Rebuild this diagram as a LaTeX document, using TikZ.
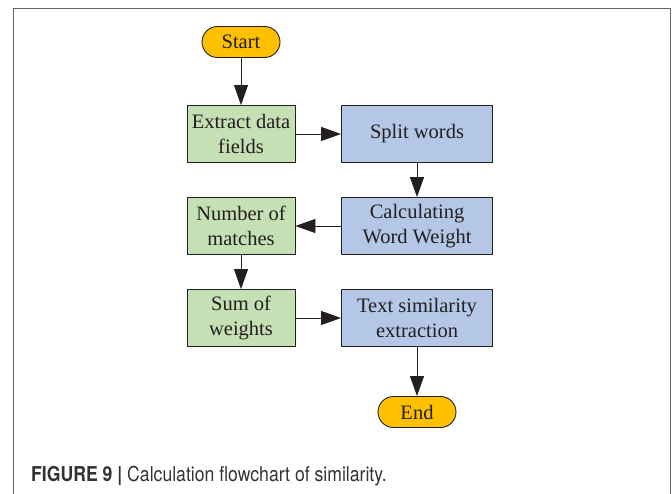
\documentclass[tikz,border=0pt]{standalone}
\usepackage{fontspec}
\setmainfont{Liberation Serif}
\newfontfamily\capfont[FakeStretch=0.86]{TeX Gyre Heros}
\usepackage{tikz}
\usetikzlibrary{
	positioning,
	arrows.meta
}

\definecolor{termfill}{HTML}{FFC000}
\definecolor{greenfill}{HTML}{C5E0B4}
\definecolor{bluefill}{HTML}{B4C7E7}
\definecolor{inkgray}{HTML}{231F20}

\tikzset{
	terminal/.style={draw=inkgray,fill=termfill,line width=0.9pt,rounded corners=15.5pt,
		minimum width=78pt,minimum height=31pt,inner sep=0pt,font=\fontsize{20.5}{24}\selectfont},
	greenbox/.style={draw=inkgray,fill=greenfill,line width=0.9pt,minimum width=108pt,
		minimum height=57pt,inner sep=0pt,align=center,font=\fontsize{20.5}{25}\selectfont},
	bluebox/.style={draw=inkgray,fill=bluefill,line width=0.9pt,minimum width=151pt,
		minimum height=57pt,inner sep=0pt,align=center,font=\fontsize{20.5}{25}\selectfont},
	flow/.style={draw=inkgray,line width=0.9pt,-{Triangle[length=20pt,width=14pt]}}
}

\begin{document}
\begin{tikzpicture}[text=inkgray,node distance=92pt]
		\useasboundingbox (0,0) rectangle (672pt,-494pt);
		\draw[gray!80!black,line width=1.3pt] (13.5pt,-494pt) -- (13.5pt,-8.5pt) -- (670.5pt,-8.5pt) -- (670.5pt,-494pt);

		\draw
			node [terminal] at (241pt,-42pt)              (start)   {Start}
			node [greenbox,below of=start]                (extract) {Extract data\\fields}
			node [bluebox,node distance=176pt,right of=extract] (split)   {Split words}
			node [bluebox,below of=split]                 (weight)  {Calculating\\Word Weight}
			node [greenbox,node distance=176pt,left of=weight]  (matches) {Number of\\matches}
			node [greenbox,below of=matches]              (sum)     {Sum of\\weights}
			node [bluebox,node distance=176pt,right of=sum]     (simil)   {Text similarity\\extraction}
			node [terminal,below of=simil,yshift=-2pt]    (end)     {End}
		;

		\draw [flow] (start)   -- (extract);
		\draw [flow] (extract) -- (split);
		\draw [flow] (split)   -- (weight);
		\draw [flow] (weight)  -- (matches);
		\draw [flow] (matches) -- (sum);
		\draw [flow] (sum)     -- (simil);
		\draw [flow] (simil)   -- (end);

		\node [anchor=base west,inner sep=0pt,text=black!80,font=\capfont\fontsize{20.5}{24}\selectfont]
			(caption) at (31pt,-481.5pt) {\textbf{FIGURE 9 |} Calculation flowchart of similarity.};
\end{tikzpicture}
\end{document}
